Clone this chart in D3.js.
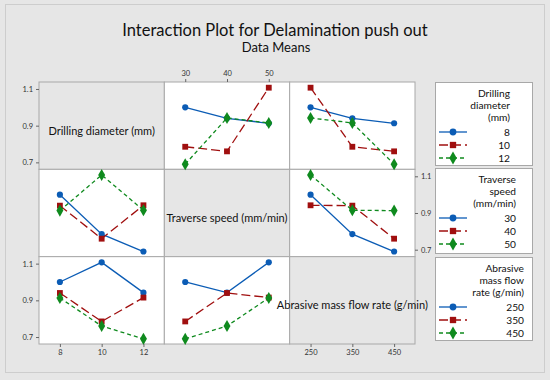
<!DOCTYPE html>
<html>
<head>
<meta charset="utf-8">
<script src="https://cdn.jsdelivr.net/npm/d3@7"></script>
<style>
body { margin: 0; background: #e6e6e6; }
svg { display: block; font-family: Lato, "Open Sans", sans-serif; }
</style>
</head>
<body>
<script>
// factor levels
var diameterLevels = [8, 10, 12];
var speedLevels = [30, 40, 50];
var flowLevels = [250, 350, 450];

// the nine runs (one per pair of levels), delamination push out
var runDiameter = [8, 8, 8, 10, 10, 10, 12, 12, 12];
var runSpeed = [30, 40, 50, 30, 40, 50, 30, 40, 50];
var runFlow = [250, 350, 450, 350, 450, 250, 450, 250, 350];
var delamination = [1.0, 0.94, 0.913, 0.785, 0.76, 1.107, 0.69, 0.942, 0.915];

var yTicks = [0.7, 0.9, 1.1];

var factors = [
    {label: "Drilling diameter (mm)", legend: ["Drilling", "diameter", "(mm)"], levels: diameterLevels, runs: runDiameter},
    {label: "Traverse speed (mm/min)", legend: ["Traverse", "speed", "(mm/min)"], levels: speedLevels, runs: runSpeed},
    {label: "Abrasive mass flow rate (g/min)", legend: ["Abrasive", "mass flow", "rate (g/min)"], levels: flowLevels, runs: runFlow}
];

var colors = ["#0b5cb5", "#a00f0f", "#0f8a1e"];
var dashes = [null, "9,4", "4,3"];
var symbols = [d3.symbolCircle, d3.symbolSquare, d3.symbolDiamond];
var symSizes = [30, 34, 42];

var width = 550, height = 380;
var gridLeft = 39, gridTop = 82, cellW = 376 / 3, cellH = 262 / 3;
var gridColor = "#a8a8a8";

var svg = d3.select("body").append("svg")
    .attr("width", width)
    .attr("height", height);

// outer frame
svg.append("rect")
    .attr("x", 5.5).attr("y", 4.5)
    .attr("width", 539).attr("height", 368)
    .attr("fill", "#e6e6e6")
    .attr("stroke", "#cdcdcd");

svg.append("text")
    .attr("x", 275).attr("y", 36)
    .attr("text-anchor", "middle")
    .attr("font-size", "16.5px")
    .attr("fill", "#111")
    .text("Interaction Plot for Delamination push out");

svg.append("text")
    .attr("x", 276).attr("y", 52)
    .attr("text-anchor", "middle")
    .attr("font-size", "13px")
    .attr("fill", "#111")
    .text("Data Means");

var y = d3.scaleLinear().domain([0.662, 1.138]);

function xScale(c) {
    var lv = factors[c].levels, step = lv[1] - lv[0];
    return d3.scaleLinear()
        .domain([lv[0] - step / 2, lv[lv.length - 1] + step / 2])
        .range([gridLeft + c * cellW, gridLeft + (c + 1) * cellW]);
}

function cellMean(r, c, g, xv) {
    var vals = delamination.filter(function(d, i) {
        return factors[r].runs[i] === g && factors[c].runs[i] === xv;
    });
    return d3.mean(vals);
}

for (var r = 0; r < 3; r++) {
    for (var c = 0; c < 3; c++) {
        var x0 = gridLeft + c * cellW, y0 = gridTop + r * cellH;
        svg.append("rect")
            .attr("x", x0).attr("y", y0)
            .attr("width", cellW).attr("height", cellH)
            .attr("fill", r === c ? "#e6e6e6" : "#fff")
            .attr("stroke", gridColor);
    }
}

for (var r = 0; r < 3; r++) {
    var yr = y.copy().range([gridTop + (r + 1) * cellH, gridTop + r * cellH]);
    for (var c = 0; c < 3; c++) {
        if (r === c) continue;
        var xs = xScale(c);
        var g = svg.append("g");
        factors[r].levels.forEach(function(lev, k) {
            var pts = factors[c].levels.map(function(xv) {
                return [xs(xv), yr(cellMean(r, c, lev, xv))];
            });
            g.append("path")
                .attr("d", d3.line()(pts))
                .attr("fill", "none")
                .attr("stroke", colors[k])
                .attr("stroke-width", 1.3)
                .attr("stroke-dasharray", dashes[k]);
            g.selectAll(null)
                .data(pts)
                .enter().append("path")
                .attr("transform", function(d) { return "translate(" + d[0] + "," + d[1] + ")"; })
                .attr("d", d3.symbol().type(symbols[k]).size(symSizes[k]))
                .attr("fill", colors[k]);
        });
    }
}

// diagonal labels
factors.forEach(function(f, i) {
    svg.append("text")
        .attr("x", gridLeft + (i + 0.5) * cellW)
        .attr("y", gridTop + (i + 0.5) * cellH + 9)
        .attr("text-anchor", "middle")
        .attr("font-size", "11px")
        .attr("fill", "#111")
        .text(f.label);
});

// axes
function styleAxis(sel) {
    sel.select(".domain").remove();
    sel.selectAll(".tick line").attr("stroke", "#666");
    sel.selectAll(".tick text").attr("fill", "#333").attr("font-size", "7.5px")
        .attr("font-family", "Lato, \"Open Sans\", sans-serif");
}

var yFmt = d3.format(".1f");
[0, 1, 2].forEach(function(r) {
    var yr = y.copy().range([gridTop + (r + 1) * cellH, gridTop + r * cellH]);
    var ax = (r === 1 ? d3.axisRight(yr) : d3.axisLeft(yr))
        .tickValues(yTicks).tickSize(3).tickPadding(3).tickFormat(yFmt);
    svg.append("g")
        .attr("transform", "translate(" + (r === 1 ? gridLeft + 3 * cellW : gridLeft) + ",0)")
        .call(ax).call(styleAxis);
});

[0, 1, 2].forEach(function(c) {
    var ax = (c === 1 ? d3.axisTop(xScale(c)) : d3.axisBottom(xScale(c)))
        .tickValues(factors[c].levels).tickSize(3).tickPadding(3).tickFormat(d3.format("d"));
    svg.append("g")
        .attr("transform", "translate(0," + (c === 1 ? gridTop : gridTop + 3 * cellH) + ")")
        .call(ax).call(styleAxis);
});

// legends
var legendTop = [82, 168, 257], legendH = [83, 85, 83], legendRight = [510, 516, 524];
factors.forEach(function(f, i) {
    var lg = svg.append("g");
    var top = legendTop[i];
    lg.append("rect")
        .attr("x", 435.5).attr("y", top + 0.5)
        .attr("width", 97).attr("height", legendH[i])
        .attr("fill", "#fff")
        .attr("stroke", gridColor);
    f.legend.forEach(function(t, j) {
        lg.append("text")
            .attr("x", legendRight[i]).attr("y", top + 14.5 + 12.4 * j)
            .attr("text-anchor", "end")
            .attr("font-size", "10.2px")
            .attr("fill", "#111")
            .text(t);
    });
    f.levels.forEach(function(lev, k) {
        var ly = top + 50 + 13 * k;
        lg.append("line")
            .attr("x1", 439).attr("x2", 467)
            .attr("y1", ly).attr("y2", ly)
            .attr("stroke", colors[k])
            .attr("stroke-width", 1.3)
            .attr("stroke-dasharray", dashes[k]);
        lg.append("path")
            .attr("transform", "translate(453," + ly + ")")
            .attr("d", d3.symbol().type(symbols[k]).size(symSizes[k] + 6))
            .attr("fill", colors[k]);
        lg.append("text")
            .attr("x", legendRight[i]).attr("y", ly + 3.6)
            .attr("text-anchor", "end")
            .attr("font-size", "10.2px")
            .attr("fill", "#111")
            .text(lev);
    });
});
</script>
</body>
</html>
